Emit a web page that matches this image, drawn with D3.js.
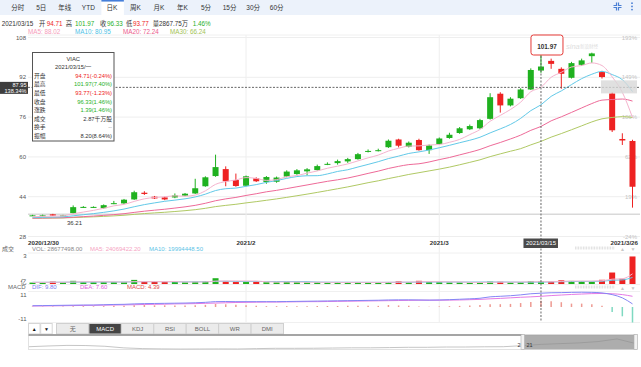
<!DOCTYPE html>
<html>
<head>
<meta charset="utf-8">
<script src="https://cdn.jsdelivr.net/npm/d3@7/dist/d3.min.js"></script>
<style>
  body { margin: 0; background: #fff; }
  svg { display: block; font-family: "Liberation Sans", "Noto Sans CJK SC", sans-serif; }
</style>
</head>
<body>
<svg id="chart" width="641" height="367"></svg>
<script>
// ---- data ----
var dates = ["2020-12-30","2020-12-31","2021-01-04","2021-01-05","2021-01-06","2021-01-07","2021-01-08",
  "2021-01-11","2021-01-12","2021-01-13","2021-01-14","2021-01-15","2021-01-19","2021-01-20","2021-01-21",
  "2021-01-22","2021-01-25","2021-01-26","2021-01-27","2021-01-28","2021-01-29","2021-02-01","2021-02-02",
  "2021-02-03","2021-02-04","2021-02-05","2021-02-08","2021-02-09","2021-02-10","2021-02-11","2021-02-12",
  "2021-02-16","2021-02-17","2021-02-18","2021-02-19","2021-02-22","2021-02-23","2021-02-24","2021-02-25",
  "2021-02-26","2021-03-01","2021-03-02","2021-03-03","2021-03-04","2021-03-05","2021-03-08","2021-03-09",
  "2021-03-10","2021-03-11","2021-03-12","2021-03-15","2021-03-16","2021-03-17","2021-03-18","2021-03-19",
  "2021-03-22","2021-03-23","2021-03-24","2021-03-25","2021-03-26"];

var opens = [36.3,36.4,36.9,36.3,37.4,39.7,39.7,39.4,41.2,41.3,42.9,45.6,44.0,43.7,43.7,44.4,45.3,48.2,52.3,55.1,
  50.7,48.4,51.4,49.9,50.0,52.1,53.1,54.2,54.7,57.0,57.5,58.2,59.1,62.2,62.5,63.9,67.0,64.1,66.8,62.7,
  65.2,67.6,69.6,71.1,71.5,75.3,85.4,80.7,83.6,87.1,94.71,98.6,95.4,91.8,97.0,100.5,94.1,85.5,67.2,66.4];
var highs = [36.7,36.8,37.1,36.7,40.5,40.2,40.1,40.9,42.3,43.1,46.4,46.2,44.3,44.0,45.3,45.5,51.2,52.2,60.9,56.2,
  53.3,52.5,51.8,52.3,52.1,54.6,55.1,55.5,56.9,57.8,58.9,59.6,61.6,63.0,63.3,67.0,67.3,66.2,67.3,65.0,
  67.8,69.7,72.0,73.0,75.3,85.6,86.0,84.0,87.6,95.6,101.97,99.5,96.0,98.2,99.5,101.9,94.6,86.0,69.5,66.9];
var lows = [36.25,36.3,36.3,36.21,37.2,39.5,39.5,39.2,41.0,41.1,42.7,44.7,43.1,42.6,43.4,44.2,45.1,48.0,52.0,48.2,
  48.0,48.2,49.9,49.2,49.6,51.8,52.8,52.6,54.5,56.7,56.9,57.6,58.9,61.8,62.2,63.6,63.8,63.8,62.5,61.2,
  65.0,67.3,69.3,70.8,71.2,75.0,77.8,80.3,83.3,86.9,93.77,95.4,87.4,91.5,96.6,97.8,91.5,70.0,64.8,39.6];
var closes = [36.5,36.5,36.4,36.5,39.8,39.9,39.9,40.6,41.4,42.8,45.8,45.1,43.3,42.9,44.5,45.2,47.4,51.8,55.9,50.2,
  48.3,52.2,50.2,51.9,51.7,54.1,54.6,55.0,56.3,57.2,58.3,59.1,61.1,62.4,62.7,66.5,64.5,65.7,62.7,64.6,
  67.4,68.9,71.5,72.4,74.8,84.0,80.7,83.4,87.1,94.94,96.33,97.4,93.4,97.7,98.8,101.6,92.1,70.7,66.6,48.0];

var ma5 = [35.9,36.1,36.2,36.3,37.14,37.82,38.5,39.34,40.32,40.92,42.1,43.14,43.68,43.98,44.32,44.2,44.66,46.36,48.96,50.1,
  50.72,51.68,51.36,50.56,50.86,52.02,52.5,53.46,54.34,55.44,56.28,57.18,58.4,59.62,60.72,62.36,63.44,64.36,64.42,64.8,
  64.98,65.86,67.02,68.96,71.0,74.32,76.68,79.06,82.0,86.2,88.02,92.0,94.0,96.13,96.73,97.78,96.72,92.18,85.96,75.8];
var ma10 = [35.6,35.7,35.79,35.89,36.32,36.76,37.2,37.71,38.3,39.03,39.96,40.82,41.51,42.15,42.62,43.15,43.9,45.02,46.47,47.21,
  47.46,48.17,48.86,49.76,50.48,51.37,52.09,52.41,52.45,53.15,54.15,54.84,55.93,56.98,58.08,59.32,60.31,61.38,62.02,62.76,
  63.67,64.65,65.69,66.69,67.9,69.65,71.27,73.04,75.48,78.6,80.95,84.34,86.53,89.06,91.46,93.22,94.36,93.09,91.04,86.26];
var ma20 = [35.36,35.42,35.48,35.54,35.76,35.99,36.22,36.49,36.79,37.17,37.69,38.18,38.58,38.96,39.42,39.92,40.52,41.35,42.38,43.12,
  43.71,44.5,45.19,45.96,46.55,47.26,48.0,48.72,49.46,50.18,50.8,51.5,52.4,53.37,54.28,55.35,56.2,56.9,57.24,57.96,
  58.91,59.75,60.81,61.84,62.99,64.49,65.79,67.21,68.75,70.68,72.24,74.5,76.11,77.88,79.68,81.44,82.82,83.07,83.26,82.43];
var ma30 = [35.34,35.38,35.42,35.46,35.61,35.76,35.91,36.09,36.29,36.54,36.89,37.22,37.49,37.74,38.05,38.38,38.78,39.33,40.02,40.51,
  40.95,41.51,42.01,42.56,43.11,43.73,44.38,45.03,45.73,46.46,47.19,47.94,48.77,49.63,50.39,51.28,52.1,52.94,53.65,54.37,
  55.09,55.89,56.83,57.81,58.82,60.11,61.22,62.28,63.32,64.84,66.24,67.94,69.38,70.91,72.48,74.06,75.31,75.84,76.18,75.87];

// volume in millions of shares
var volumes = [15,14,26,20,34,21,19,21,20,22,44,22,24,20,21,19,24,28,62,28,21,21,27,19,18,21,19,17,19,15,
  17,17,21,17,15,21,28,19,34,21,20,17,17,15,18,26,24,17,20,30,28.677498,26,40,33,30,27,45,123,56,295];
var volMa5 = [18,18,19,19,21.8,23,24,23,23,20.6,25.2,25.8,26.4,26.4,26.2,21.2,21.6,22.4,30.8,32.2,
  32.6,32,31.8,23.2,21.2,21.2,20.8,18.8,18.8,18.2,17.4,17,17.8,17.4,17.4,18.2,20.4,20,23.4,24.6,
  24.4,22.2,21.8,18,17.4,18.6,20,20,21,23.4,24.0694222,24.3,28.9,31.5,31.5,31.2,35,51.6,56.2,109.2];
var volMa10 = [18,18,18.5,19,20,20.5,21,21,21.5,21.2,24.1,24.9,24.7,24.7,23.4,23.2,23.7,24.4,28.6,29.2,
  26.9,26.8,27.1,27,26.7,26.9,26.4,25.3,21,19.7,19.3,18.9,18.3,18.1,17.8,17.8,18.7,18.9,20.4,21,
  21.3,21.3,20.9,20.7,21,21.5,21.1,20.9,19.5,20.4,19.9944485,22.2,24.5,26.3,27.5,27.6,29.7,40.3,43.9,70.4];

var dif = [0.9,1.0,1.1,1.2,1.3,1.4,1.4,1.6,1.8,1.9,2.2,2.4,2.5,2.6,2.7,2.8,3.0,3.3,3.8,3.9,
  3.8,3.8,3.8,3.8,3.8,3.9,4.0,4.1,4.2,4.3,4.4,4.5,4.6,4.7,4.8,5.0,5.1,5.1,5.0,4.9,
  5.0,5.2,5.5,5.8,6.2,7.2,7.6,8.0,8.6,9.4,9.8,10.1,10.2,10.4,10.5,10.4,10.0,8.8,6.5,2.2];
var dea = [0.7,0.75,0.8,0.9,1.0,1.1,1.2,1.3,1.4,1.5,1.6,1.8,1.9,2.0,2.2,2.3,2.4,2.6,2.8,3.0,
  3.2,3.3,3.4,3.5,3.5,3.6,3.7,3.8,3.8,3.9,4.0,4.1,4.2,4.3,4.4,4.5,4.6,4.7,4.8,4.8,
  4.8,4.9,5.0,5.2,5.4,5.8,6.1,6.5,6.9,7.2,7.6,8.1,8.5,8.9,9.2,9.5,9.6,9.4,8.8,7.6];
var macdHist = [0.3,0.3,0.3,0.4,0.5,0.6,0.5,0.6,0.8,0.8,1.2,1.4,1.2,1.2,1.1,1.0,1.2,1.5,2.2,1.9,
  1.6,1.2,0.8,0.6,0.6,0.6,0.6,0.6,0.7,0.7,0.7,0.8,0.8,0.8,0.8,1.4,1.1,0.8,0.4,0.2,
  0.4,0.6,0.8,1.0,1.4,2.0,2.0,2.2,2.8,3.6,4.39,4.0,3.4,2.4,2.4,2.0,0.8,-3.6,-6.6,-11];

// long history for the navigator strip
var navValues = [29,34,38,37,32,21,16,14,13,13.5,14,13.5,16,18,18,18.5,20,21.5,21.5,23,25,25,27,27,28.5,29,36,45,50,55,64,82,50];

var priceTicks = [28, 44, 60, 76, 92, 108];
var pctLabels = ["-24%", "19%", "62%", "106%", "149%", "193%"];
var basePrice = 36.9;
var monthTicks = ["2021-02-01", "2021-03-01"];
var monthLabels = ["2021/2", "2021/3"];
var topTabs = ["分时","5日","年线","YTD","日K","周K","月K","年K","5分","15分","30分","60分"];
var indTabs = ["无","MACD","KDJ","RSI","BOLL","WR","DMI"];
var focusDate = "2021-03-15";
var crossPrice = 87.95, crossPct = "138.34%";

// ---- setup ----
var svg = d3.select("#chart");
var green = "#1fb11f", red = "#ee2222";
var cMa5 = "#f5b3cd", cMa10 = "#62c9e8", cMa20 = "#ee6a98", cMa30 = "#b0c964";

var x = d3.scalePoint().domain(dates).range([32.5, 632.5]);
var y = d3.scaleLinear().domain([28, 108]).range([236.5, 37.5]);
var yVol = d3.scaleLinear().domain([0, 300]).range([284, 256]);
var yMacd = d3.scaleLinear().domain([-11, 11]).range([322.5, 291.5]);

function col(i) { return closes[i] >= opens[i] ? green : red; }

function label(g, px, py, s, size, fill, anchor, weight) {
  return g.append("text").attr("x", px).attr("y", py)
    .attr("font-size", size).attr("fill", fill)
    .attr("text-anchor", anchor || "start")
    .attr("font-weight", weight || "normal")
    .text(s);
}

// ---- top tab bar ----
svg.append("rect").attr("width", 641).attr("height", 15).attr("fill", "#ecf2fb");
var tabX = d3.scalePoint().domain(topTabs).range([17.7, 276.7]);
svg.append("rect").attr("x", tabX("日K") - 10.5).attr("y", 0).attr("width", 22.5).attr("height", 15).attr("fill", "#fff");
svg.append("line").attr("x1", tabX("日K") - 10.5).attr("x2", tabX("日K") + 12)
  .attr("y1", 0.8).attr("y2", 0.8).attr("stroke", "#3b78d8").attr("stroke-width", 1.5);
topTabs.forEach(function(t) { label(svg, tabX(t), 9.8, t, 6.5, "#333", "middle"); });

// compress + menu icons
var ic = svg.append("g").attr("stroke", "#4a7fd4").attr("stroke-width", 1.2).attr("fill", "none");
ic.append("path").attr("d", "M613.5,5.5h3v-3 M621.5,5.5h-3v-3 M613.5,7.5h3v3 M621.5,7.5h-3v3");
[3.2, 6.4, 9.6].forEach(function(cy) {
  svg.append("circle").attr("cx", 632).attr("cy", cy).attr("r", 0.9).attr("fill", "#4a7fd4");
});

// ---- quote line ----
var fi = dates.indexOf(focusDate);
var prevClose = closes[fi - 1];
function pct(v) { return ((v / prevClose - 1) * 100).toFixed(2) + "%"; }
var q = svg.append("g").attr("font-size", 6.3);
label(q, 1.7, 25.6, "2021/03/15", 6.3, "#333");
label(q, 39, 25.6, "开", 6.3, "#333");
label(q, 46.7, 25.6, opens[fi].toFixed(2), 6.3, opens[fi] >= prevClose ? green : red);
label(q, 65.7, 25.6, "高", 6.3, "#333");
label(q, 75, 25.6, highs[fi].toFixed(2), 6.3, highs[fi] >= prevClose ? green : red);
label(q, 100, 25.6, "收", 6.3, "#333");
label(q, 107, 25.6, closes[fi].toFixed(2), 6.3, closes[fi] >= prevClose ? green : red);
label(q, 126, 25.6, "低", 6.3, "#333");
label(q, 133, 25.6, lows[fi].toFixed(2), 6.3, lows[fi] >= prevClose ? green : red);
label(q, 152.7, 25.6, "量", 6.3, "#333");
label(q, 159, 25.6, (volumes[fi] * 100).toFixed(2) + "万", 6.3, "#333");
label(q, 192.7, 25.6, pct(closes[fi]), 6.3, green);

label(svg, 28, 33.8, "MA5: " + ma5[fi].toFixed(2), 6.3, "#f59ab9");
label(svg, 75, 33.8, "MA10: " + ma10[fi].toFixed(2), 6.3, "#4cbfe6");
label(svg, 123, 33.8, "MA20: " + ma20[fi].toFixed(2), 6.3, "#ec5a8c");
label(svg, 170, 33.8, "MA30: " + ma30[fi].toFixed(2), 6.3, "#a2c254");

// ---- grid ----
var grid = svg.append("g");
grid.selectAll(".hg").data(priceTicks).enter().append("line")
  .attr("x1", 28).attr("x2", 640)
  .attr("y1", function(d) { return y(d); }).attr("y2", function(d) { return y(d); })
  .attr("stroke", "#eeeeee");
grid.append("line").attr("x1", 28).attr("x2", 640).attr("y1", y(basePrice)).attr("y2", y(basePrice))
  .attr("stroke", "#d9d9d9").attr("stroke-width", 1.5);
grid.selectAll(".vg").data(monthTicks).enter().append("line")
  .attr("x1", function(d) { return x(d); }).attr("x2", function(d) { return x(d); })
  .attr("y1", 35).attr("y2", 322).attr("stroke", "#eeeeee");
// panel separators
[35, 253, 284.5, 291.5, 322.5].forEach(function(py) {
  grid.append("line").attr("x1", 28).attr("x2", 640).attr("y1", py).attr("y2", py).attr("stroke", "#f0f0f0");
});

// axis labels
priceTicks.forEach(function(t, i) {
  label(svg, 26, y(t) + 2, String(t), 6, "#555", "end");
  label(svg, 637, y(t) + 2, pctLabels[i], 6, "#c4c4c4", "end");
});

// watermark
label(svg, 566, 49, "sina", 7.5, "#dedede").attr("font-style", "italic");
label(svg, 580, 48, "新浪财经", 4.5, "#dedede");

// ---- candles ----
var cg = svg.append("g");
var candle = cg.selectAll(".c").data(dates).enter().append("g");
candle.append("line")
  .attr("x1", function(d) { return x(d); }).attr("x2", function(d) { return x(d); })
  .attr("y1", function(d, i) { return y(highs[i]); })
  .attr("y2", function(d, i) { return y(lows[i]); })
  .attr("stroke", function(d, i) { return col(i); });
candle.append("rect")
  .attr("x", function(d) { return x(d) - 3; })
  .attr("width", 6)
  .attr("y", function(d, i) { return y(Math.max(opens[i], closes[i])); })
  .attr("height", function(d, i) { return Math.max(1, Math.abs(y(opens[i]) - y(closes[i]))); })
  .attr("fill", function(d, i) { return col(i); });

// moving averages
function maLine(vals, yy) {
  return d3.line().x(function(d, i) { return x(dates[i]); }).y(function(d) { return yy(d); })
    .curve(d3.curveMonotoneX)(vals);
}
[[ma30, cMa30], [ma20, cMa20], [ma10, cMa10], [ma5, cMa5]].forEach(function(m) {
  svg.append("path").attr("d", maLine(m[0], y)).attr("fill", "none").attr("stroke", m[1]).attr("stroke-width", 1);
});

// min label
var minI = d3.minIndex(lows);
label(svg, x(dates[minI]) + 4, 224.5, lows[minI].toFixed(2), 6, "#333");

// ---- volume panel ----
var vg = svg.append("g");
vg.selectAll("rect").data(volumes).enter().append("rect")
  .attr("x", function(d, i) { return x(dates[i]) - 3; })
  .attr("width", 6)
  .attr("y", function(d) { return yVol(d); })
  .attr("height", function(d) { return Math.max(1, 284 - yVol(d)); })
  .attr("fill", function(d, i) { return col(i); });
svg.append("path").attr("d", maLine(volMa10, yVol)).attr("fill", "none").attr("stroke", cMa10).attr("stroke-width", 1);
svg.append("path").attr("d", maLine(volMa5, yVol)).attr("fill", "none").attr("stroke", cMa5).attr("stroke-width", 1);

label(svg, 26.5, 258, "3", 6, "#555", "end");
label(svg, 26.5, 283.5, "亿", 6, "#555", "end");
label(svg, 2, 250.8, "成交", 6, "#666");
label(svg, 32, 250.8, "VOL: " + (volumes[fi] * 1e6).toFixed(2), 6, "#888");
label(svg, 90, 250.8, "MA5: " + (volMa5[fi] * 1e6).toFixed(2), 6, "#f5a3c2");
label(svg, 149, 250.8, "MA10: " + (volMa10[fi] * 1e6).toFixed(2), 6, "#5cc3e6");

// ---- MACD panel ----
var mg = svg.append("g");
mg.selectAll("line").data(macdHist).enter().append("line")
  .attr("x1", function(d, i) { return x(dates[i]); }).attr("x2", function(d, i) { return x(dates[i]); })
  .attr("y1", yMacd(0)).attr("y2", function(d) { return yMacd(d); })
  .attr("stroke", function(d) { return d >= 0 ? "#ee9a92" : "#7fd9c1"; })
  .attr("stroke-width", 1.5);
svg.append("path").attr("d", maLine(dea, yMacd)).attr("fill", "none").attr("stroke", "#e57ae5").attr("stroke-width", 1);
svg.append("path").attr("d", maLine(dif, yMacd)).attr("fill", "none").attr("stroke", "#8585f5").attr("stroke-width", 1);

label(svg, 26.5, 297, "11", 6, "#555", "end");
label(svg, 26.5, 321.3, "-11", 6, "#555", "end");
label(svg, 8, 289.4, "MACD", 6, "#666");
label(svg, 32, 289.4, "DIF: " + dif[fi].toFixed(2), 6, "#7b7bf2");
label(svg, 80, 289.4, "DEA: " + dea[fi].toFixed(2), 6, "#e060e0");
label(svg, 127, 289.4, "MACD: " + macdHist[fi].toFixed(2), 6, "#e04848");

// panel resize grips
[248, 287].forEach(function(py) {
  svg.append("line").attr("x1", 575).attr("x2", 615).attr("y1", py).attr("y2", py)
    .attr("stroke", "#dcdcdc").attr("stroke-width", 3).attr("stroke-dasharray", "0.8,0.8");
  label(svg, 622.5, py + 2.5, "▲", 5, "#c8c8c8", "middle");
  label(svg, 633, py + 2.5, "▼", 5, "#c8c8c8", "middle");
});

// ---- date labels ----
label(svg, 28, 245.3, "2020/12/30", 6.2, "#333", "start", "bold");
monthTicks.forEach(function(d, i) { label(svg, x(d), 245.3, monthLabels[i], 6.2, "#333", "middle", "bold"); });
label(svg, 638, 245.3, "2021/3/26", 6.2, "#333", "end", "bold");

// ---- crosshair ----
var fx = x(focusDate);
svg.append("line").attr("x1", fx).attr("x2", fx).attr("y1", 35).attr("y2", 322)
  .attr("stroke", "#666").attr("stroke-dasharray", "2,1.5");
svg.append("line").attr("x1", 28).attr("x2", 640).attr("y1", y(crossPrice)).attr("y2", y(crossPrice))
  .attr("stroke", "#666").attr("stroke-dasharray", "2,1.5");
svg.append("rect").attr("x", 0).attr("y", y(crossPrice) - 5.5).attr("width", 28).attr("height", 12).attr("fill", "#3e3e3e");
label(svg, 26.5, y(crossPrice) - 0.3, crossPrice.toFixed(2), 5.6, "#fff", "end");
label(svg, 26.5, y(crossPrice) + 5.2, crossPct, 5.6, "#fff", "end");
svg.append("rect").attr("x", 601).attr("y", y(crossPrice) - 7).attr("width", 36).attr("height", 13)
  .attr("fill", "#d8d8d8").attr("opacity", 0.8);
svg.append("rect").attr("x", fx - 17.5).attr("y", 238.5).attr("width", 34.5).attr("height", 9.5).attr("fill", "#4a4a4a");
label(svg, fx, 245.4, "2021/03/15", 6, "#fff", "middle");

// max high marker
var maxI = d3.maxIndex(highs);
var mx = x(dates[maxI]) + 6;
svg.append("rect").attr("x", mx - 16).attr("y", 35).attr("width", 32).attr("height", 20).attr("rx", 2.5)
  .attr("fill", "#fff").attr("stroke", "#e53935").attr("stroke-width", 1);
label(svg, mx, 48.5, highs[maxI].toFixed(2), 6.4, "#333", "middle", "bold");

// ---- tooltip ----
var tip = svg.append("g");
tip.append("rect").attr("x", 32.5).attr("y", 52.5).attr("width", 81.5).attr("height", 88.5)
  .attr("fill", "#fff").attr("stroke", "#555");
label(tip, 73.2, 61.3, "VIAC", 5.8, "#333", "middle");
label(tip, 73.2, 69.3, "2021/03/15/一", 5.8, "#333", "middle");
var chg = closes[fi] - prevClose;
var rows = [
  ["开盘", opens[fi].toFixed(2) + "(" + pct(opens[fi]) + ")", opens[fi] >= prevClose ? green : red],
  ["最高", highs[fi].toFixed(2) + "(" + pct(highs[fi]) + ")", highs[fi] >= prevClose ? green : red],
  ["最低", lows[fi].toFixed(2) + "(" + pct(lows[fi]) + ")", lows[fi] >= prevClose ? green : red],
  ["收盘", closes[fi].toFixed(2) + "(" + pct(closes[fi]) + ")", closes[fi] >= prevClose ? green : red],
  ["涨跌", chg.toFixed(2) + "(" + pct(closes[fi]) + ")", chg >= 0 ? green : red],
  ["成交", (volumes[fi] / 10).toFixed(2) + "千万股", "#333"],
  ["换手", "--", "#999"],
  ["振幅", (highs[fi] - lows[fi]).toFixed(2) + "(" + ((highs[fi] - lows[fi]) / prevClose * 100).toFixed(2) + "%)", "#333"]
];
rows.forEach(function(r, i) {
  var ry = 77.8 + i * 8.57;
  label(tip, 34, ry, r[0], 5.8, "#333");
  label(tip, 112, ry, r[1], 5.8, r[2], "end");
});

// ---- indicator toolbar ----
var tb = svg.append("g");
[["▲", 28.5], ["▼", 40.7]].forEach(function(b) {
  tb.append("rect").attr("x", b[1]).attr("y", 323.5).attr("width", 11.5).attr("height", 10.5)
    .attr("fill", "#fff").attr("stroke", "#d6d6d6");
  label(tb, b[1] + 5.75, 331, b[0], 5, "#111", "middle");
});
var tabBand = d3.scaleBand().domain(indTabs).range([56.5, 283.5]);
indTabs.forEach(function(t) {
  var on = t === "MACD";
  tb.append("rect").attr("x", tabBand(t)).attr("y", 323.5).attr("width", tabBand.bandwidth()).attr("height", 10.5)
    .attr("fill", on ? "#444" : "#ebebeb").attr("stroke", "#d0d0d0");
  label(tb, tabBand(t) + tabBand.bandwidth() / 2, 331, t, 6, on ? "#fff" : "#666", "middle");
});

// ---- navigator ----
var nx = d3.scaleLinear().domain([0, navValues.length - 1]).range([29, 636]);
var ny = d3.scaleLinear().domain([10, 102]).range([349.5, 336]);
svg.append("rect").attr("x", 28.5).attr("y", 335).attr("width", 608.5).attr("height", 14.5)
  .attr("fill", "#fff").attr("stroke", "#e2e2e2");
svg.append("path").attr("d", d3.line().x(function(d, i) { return nx(i); }).y(function(d) { return ny(d); })(navValues))
  .attr("fill", "none").attr("stroke", "#c6c6c6").attr("stroke-width", 1);
svg.append("line").attr("x1", 28.5).attr("x2", 522.5).attr("y1", 335).attr("y2", 335)
  .attr("stroke", "#8c8c8c").attr("stroke-width", 1.5);
svg.append("rect").attr("x", 522.5).attr("y", 334.7).attr("width", 114).attr("height", 14.6)
  .attr("fill", "#8a8a8a").attr("opacity", 0.7);
[521, 634].forEach(function(hx) {
  svg.append("rect").attr("x", hx).attr("y", 334.5).attr("width", 3.5).attr("height", 15)
    .attr("fill", "#f2f2f2").attr("stroke", "#b0b0b0").attr("stroke-width", 0.6);
});
label(svg, 520.5, 347, "2", 5.5, "#333", "end");
label(svg, 526.5, 347, "21", 5.5, "#333");
</script>
</body>
</html>
